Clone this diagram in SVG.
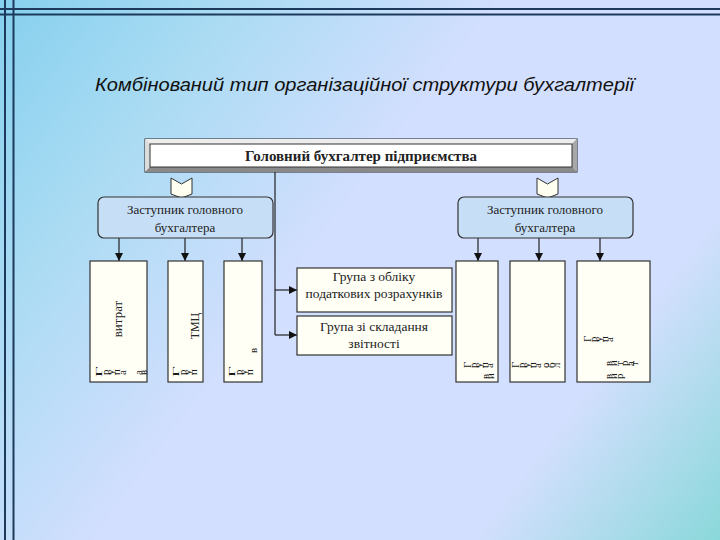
<svg xmlns="http://www.w3.org/2000/svg" width="720" height="540" viewBox="0 0 720 540">
<defs>
<linearGradient id="bg" gradientUnits="userSpaceOnUse" x1="0" y1="0" x2="720" y2="540">
<stop offset="0" stop-color="#86d0ee"/>
<stop offset="0.2" stop-color="#a9dbf3"/>
<stop offset="0.45" stop-color="#d3dffe"/>
<stop offset="0.78" stop-color="#d3dffe"/>
<stop offset="1" stop-color="#8ad8da"/>
</linearGradient>
<marker id="arr" viewBox="0 0 10 10" refX="10" refY="5" markerWidth="8" markerHeight="8" markerUnits="userSpaceOnUse" orient="auto">
<path d="M0,0 L10,5 L0,10 z" fill="#111"/>
</marker>
<style>
.frame{stroke:#1d3a5c;stroke-width:2;fill:none}
.ln{stroke:#222;stroke-width:1.2;fill:none}
.dep{fill:#c6dff7;stroke:#333;stroke-width:1.2}
.box{fill:#fffff6;stroke:#333;stroke-width:1.2}
.chev{fill:#fffff2;stroke:#333;stroke-width:1}
.t{font-family:"Liberation Serif","DejaVu Serif",serif;fill:#222;text-anchor:middle}
.g{font-family:"Liberation Serif","DejaVu Serif",serif;fill:#1a1a1a;font-size:11px}
</style>
</defs>
<rect x="0" y="0" width="720" height="540" fill="url(#bg)"/>
<g id="border">
<line class="frame" x1="5" y1="0" x2="5" y2="540"/>
<line class="frame" x1="13.5" y1="0" x2="13.5" y2="540"/>
<line class="frame" x1="0" y1="9" x2="720" y2="9"/>
<line class="frame" x1="0" y1="14.5" x2="720" y2="14.5"/>
</g>
<text x="95" y="91" font-family="'Liberation Sans','DejaVu Sans',sans-serif" font-style="italic" font-size="19" fill="#111" textLength="539" lengthAdjust="spacingAndGlyphs">Комбінований тип організаційної структури бухгалтерії</text>

<g id="connectors">
<line class="ln" x1="275" y1="172" x2="275" y2="335"/>
<line class="ln" x1="275" y1="290" x2="297" y2="290" marker-end="url(#arr)"/>
<line class="ln" x1="275" y1="335" x2="297" y2="335" marker-end="url(#arr)"/>
<line class="ln" x1="119" y1="238" x2="119" y2="261" marker-end="url(#arr)"/>
<line class="ln" x1="185" y1="238" x2="185" y2="261" marker-end="url(#arr)"/>
<line class="ln" x1="242" y1="238" x2="242" y2="261" marker-end="url(#arr)"/>
<line class="ln" x1="478" y1="238" x2="478" y2="261" marker-end="url(#arr)"/>
<line class="ln" x1="539" y1="238" x2="539" y2="261" marker-end="url(#arr)"/>
<line class="ln" x1="600" y1="238" x2="600" y2="261" marker-end="url(#arr)"/>
<path class="chev" d="M171,178 L181.5,184 L192,178 L192,194 L181.5,198 L171,194 Z"/>
<path class="chev" d="M537,178 L547.5,184 L558,178 L558,194 L547.5,198 L537,194 Z"/>
</g>

<g id="chief">
<rect x="145" y="139" width="432" height="33" fill="#c0c0c0" stroke="#222" stroke-width="1"/>
<polygon points="145,139 577,139 572,144 150,144" fill="#ededed"/>
<polygon points="145,139 150,144 150,167 145,172" fill="#dcdcdc"/>
<polygon points="145,172 150,167 572,167 577,172" fill="#8a8a8a"/>
<polygon points="577,139 577,172 572,167 572,144" fill="#a8a8a8"/>
<rect x="150" y="144" width="422" height="23" fill="#fff" stroke="#333" stroke-width="1"/>
<text class="t" x="361" y="161" font-size="15" font-weight="bold" fill="#111">Головний бухгалтер підприємства</text>
</g>

<g id="deputy-left">
<rect class="dep" x="98" y="197" width="175" height="41" rx="6"/>
<text class="t" x="185" y="214" font-size="13" fill="#333">Заступник головного</text>
<text class="t" x="185" y="232" font-size="13" fill="#333">бухгалтера</text>
</g>
<g id="deputy-right">
<rect class="dep" x="458" y="197" width="175" height="41" rx="6"/>
<text class="t" x="545" y="214" font-size="13" fill="#333">Заступник головного</text>
<text class="t" x="545" y="232" font-size="13" fill="#333">бухгалтера</text>
</g>

<g id="group-tax">
<rect class="box" x="297" y="268" width="155" height="44"/>
<text class="t" x="374" y="281" font-size="13.5">Група з обліку</text>
<text class="t" x="374" y="298" font-size="13.5">податкових розрахунків</text>
</g>
<g id="group-report">
<rect class="box" x="297" y="316" width="155" height="39"/>
<text class="t" x="374" y="331" font-size="13.5">Група зі складання</text>
<text class="t" x="374" y="348" font-size="13.5">звітності</text>
</g>

<g id="group-costs">
<rect class="box" x="90" y="261" width="57" height="121"/>
<text class="t" transform="translate(122,319) rotate(-90)" font-size="13">витрат</text>
<text class="g" transform="translate(102,377) rotate(-90) scale(1.7,0.8)" font-size="14">Г</text>
<text class="g" x="109" y="375" rotate="-90" font-size="11">рупа</text>
<text class="g" x="142" y="375" rotate="-90" font-size="10">ав</text>
</g>
<g id="group-tmc">
<rect class="box" x="168" y="261" width="35" height="121"/>
<text class="t" transform="translate(199,326) rotate(-90)" font-size="12">ТМЦ</text>
<text class="g" transform="translate(179,377) rotate(-90) scale(1.7,0.8)" font-size="14">Г</text>
<text class="g" x="186" y="375" rotate="-90" font-size="11">руп</text>
</g>
<g id="group-3">
<rect class="box" x="224" y="261" width="38" height="121"/>
<text class="g" transform="translate(235,377) rotate(-90) scale(1.7,0.8)" font-size="14">Г</text>
<text class="g" x="242" y="375" rotate="-90" font-size="11">руп</text>
<text class="g" x="257" y="353" rotate="-90" font-size="11">в</text>
</g>

<g id="group-r1">
<rect class="box" x="456" y="261" width="42" height="121"/>
<text class="g" x="471" y="368" rotate="-90" font-size="12">Група</text>
<text class="g" x="489" y="379" rotate="-90" font-size="10">ви</text>
</g>
<g id="group-r2">
<rect class="box" x="510" y="261" width="55" height="121"/>
<text class="g" x="519" y="368" rotate="-90" font-size="10">Група обл</text>
</g>
<g id="group-r3">
<rect class="box" x="577" y="261" width="73" height="121"/>
<text class="g" x="591" y="342" rotate="-90" font-size="12">Група</text>
<text class="g" x="612" y="366" rotate="-90" font-size="10">витрат</text>
<text class="g" x="612" y="379" rotate="-90" font-size="10">вир</text>
</g>
</svg>
